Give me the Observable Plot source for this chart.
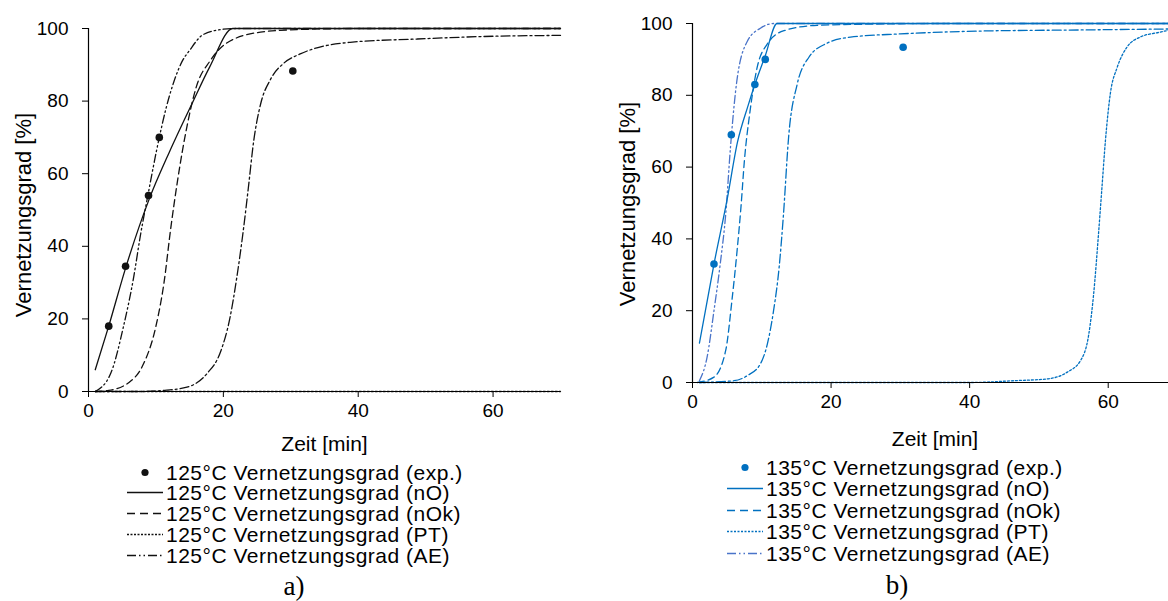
<!DOCTYPE html>
<html><head><meta charset="utf-8">
<script src="https://cdn.jsdelivr.net/npm/d3@7"></script>
<script src="https://cdn.jsdelivr.net/npm/@observablehq/plot@0.6"></script>
<style>
html,body{margin:0;padding:0;background:#fff;overflow:hidden;}
#root{position:relative;width:1168px;height:601px;overflow:hidden;font-family:"Liberation Sans",Arial,sans-serif;background:#fff;}
.panel{position:absolute;top:0;}
.legend{position:absolute;}
.row{position:absolute;left:0;height:21px;line-height:21px;font-size:21px;letter-spacing:0.5px;white-space:nowrap;color:#000;width:420px;}
.row svg{position:absolute;left:0;top:0;}
.row span{position:absolute;top:0;}
.cap{position:absolute;font-family:"Liberation Serif","Times New Roman",serif;font-size:27px;line-height:1;color:#000;transform:translate(-50%,-50%);}
</style>
</head><body><div id="root"></div>
<script>
// ---------- data ----------
const ticksX = [0, 20, 40, 60];
const ticksY = [0, 20, 40, 60, 80, 100];
const xLabel = "Zeit [min]";
const yLabel = "Vernetzungsgrad [%]";

// 125 °C
const exp125 = [[3,18],[5.5,34.5],[8.9,54],[10.5,70],[30.3,88.3]];
const nO125  = [[1,6],[3,18],[5.5,34],[9,53],[12,66],[15.4,79.5],[18,89.5],[21.4,100],[70,100]];
const nOk125 = [[1,0],[3,0.3],[6,2.5],[8,7],[10,18],[11.2,30],[12.2,45],[13.2,58],[14.6,73],[16,84],[18,91],[20.5,96],[25.5,99],[31,99.7],[40,100],[70,100]];
const PT125  = [[1,0],[70,0]];
const AE125  = [[1,0],[3.3,5],[5.2,18],[6.7,31.5],[7.7,43],[8.7,53],[10.5,70],[11.5,78],[12.6,85],[13.9,91],[15,94],[17,98.3],[20,99.8],[22,100],[70,100]];
const DD125  = [[1,0],[8,0],[11,0.3],[14.6,1.2],[17.6,5],[19.6,11],[21,20.5],[22,31.5],[23,45],[23.7,56],[24.5,69],[25.5,79],[27,86],[29,90.5],[31.4,93],[35,95.2],[38.8,96.2],[48.7,97.1],[58.6,97.8],[70,98.1]];
const names125 = ["125°C Vernetzungsgrad (exp.)","125°C Vernetzungsgrad (nO)","125°C Vernetzungsgrad (nOk)","125°C Vernetzungsgrad (PT)","125°C Vernetzungsgrad (AE)"];

// 135 °C
const exp135 = [[3.1,33],[5.6,69],[9,83],[10.5,90],[30.4,93.4]];
const nO135  = [[1,11],[3.1,33],[5,51],[6.5,67],[8,77],[9,83],[10.5,91],[12.2,100],[70,100]];
const nOk135 = [[0.7,0],[3.1,1.5],[4.8,9],[5.7,23],[6.45,37],[7,49],[7.5,62],[8.3,75.5],[9.3,87.5],[10.8,94.3],[13.2,98],[18,99.5],[25,99.8],[35,100],[70,100]];
const PT135  = [[1,0],[40,0],[46.4,0.5],[51.2,1],[54.1,2.9],[56,6.1],[57.2,13.5],[57.9,24.7],[58.6,41.4],[59.1,54.4],[59.6,67.4],[60.3,80.4],[61.3,87.8],[62.7,93.4],[64.6,96.2],[67.5,97.6],[70,98.6]];
const AE135  = [[1,0.5],[2.1,7],[3.1,20],[4,33],[4.8,47],[5.5,66],[6.4,84],[7.9,95],[9.8,98.7],[11.7,100],[70,100]];
const DD135  = [[1,0],[6,0.5],[7.9,1.9],[9.8,5.2],[10.8,10.7],[11.7,20],[12.5,32],[13.1,46],[13.9,69],[15.1,83],[16.8,90.6],[19.4,94.5],[22.8,96.2],[30,97.1],[41.6,97.9],[56,98.2],[70,98.5]];
const names135 = ["135°C Vernetzungsgrad (exp.)","135°C Vernetzungsgrad (nO)","135°C Vernetzungsgrad (nOk)","135°C Vernetzungsgrad (PT)","135°C Vernetzungsgrad (AE)"];

// ---------- styles ----------
const DASH = {nO: null, nOk: "7,4", PT: "2,2", AE: "8,3,1.5,3,1.5,3", DD: "9,3,2,3"};
const black = "#111", blue = "#0070C0", blueAE = "#4A74C9";

function makePanel(c) {
  const lines = [
    {data: c.DD, dash: DASH.DD, color: c.color},
    {data: c.PT, dash: DASH.PT, color: c.color},
    {data: c.nOk, dash: DASH.nOk, color: c.color},
    {data: c.AE, dash: DASH.AE, color: c.aeColor},
    {data: c.nO, dash: DASH.nO, color: c.color}
  ];
  return Plot.plot({
    width: c.width, height: c.height,
    marginLeft: c.mL, marginRight: c.mR, marginTop: c.mT, marginBottom: c.mB,
    x: {domain: [0, 70]}, y: {domain: [0, 100]},
    style: {fontFamily: '"Liberation Sans", Arial, sans-serif', color: "#000", background: "transparent", overflow: "visible"},
    marks: [
      ...lines.map(s => Plot.line(s.data, {x: d => d[0], y: d => d[1], stroke: s.color, strokeWidth: 1.3, strokeDasharray: s.dash, curve: "monotone-x"})),
      Plot.ruleY([0], {stroke: "#000", strokeWidth: 1.2}),
      Plot.ruleX([0], {stroke: "#000", strokeWidth: 1.2}),
      Plot.dot(c.exp, {x: d => d[0], y: d => d[1], r: 3.8, fill: c.color}),
      Plot.axisX({ticks: ticksX, tickSize: 6, tickPadding: 6, fontSize: 19, label: null}),
      Plot.axisY({ticks: ticksY, tickSize: 6, tickPadding: 14, fontSize: 19, label: null}),
      Plot.text([xLabel], {text: d => d, frameAnchor: "bottom", dy: c.xTitleDy, fontSize: 21, lineAnchor: "middle"}),
      Plot.text([yLabel], {text: d => d, frameAnchor: "left", textAnchor: "middle", lineAnchor: "middle", dx: c.yTitleDx, dy: c.yTitleDy, rotate: -90, fontSize: 22})
    ]
  });
}

function makeLegend(c) {
  const div = document.createElement("div");
  div.className = "legend";
  div.style.left = c.left + "px"; div.style.top = c.top + "px";
  const kinds = ["dot", "nO", "nOk", "PT", "AE"];
  kinds.forEach((k, i) => {
    const row = document.createElement("div");
    row.className = "row";
    row.style.top = (i * c.step) + "px";
    const col = k === "AE" ? c.aeColor : c.color;
    let sw;
    if (k === "dot") sw = `<circle cx="${c.swW/2}" cy="10.5" r="3.6" fill="${col}"/>`;
    else {
      const dash = k === "nOk" ? "8,5" : k === "PT" ? "2,1.5" : k === "AE" ? "9,3,1.5,3,1.5,3" : "";
      sw = `<line x1="0" x2="${c.swW}" y1="10.5" y2="10.5" stroke="${col}" stroke-width="1.3" ${dash ? `stroke-dasharray="${dash}"` : ""}/>`;
    }
    row.innerHTML = `<svg width="${c.swW}" height="21">${sw}</svg><span style="left:${c.textX}px">${c.names[i]}</span>`;
    div.appendChild(row);
  });
  return div;
}

const root = document.getElementById("root");

const left = makePanel({width: 580, height: 462, mL: 88, mR: 20, mT: 28, mB: 71,
  exp: exp125, nO: nO125, nOk: nOk125, PT: PT125, AE: AE125, DD: DD125,
  color: black, aeColor: black, xTitleDy: 53, yTitleDx: -65, yTitleDy: 5});
left.classList.add("panel"); left.style.left = "0px";
root.appendChild(left);

const right = makePanel({width: 600, height: 456, mL: 92, mR: 23, mT: 23, mB: 74,
  exp: exp135, nO: nO135, nOk: nOk135, PT: PT135, AE: AE135, DD: DD135,
  color: blue, aeColor: blueAE, xTitleDy: 57, yTitleDx: -65, yTitleDy: 1});
right.classList.add("panel"); right.style.left = "600px";
root.appendChild(right);

root.appendChild(makeLegend({left: 127, top: 461.5, step: 20.75, swW: 36, textX: 39, names: names125, color: black, aeColor: black}));
root.appendChild(makeLegend({left: 727, top: 456.5, step: 21.5, swW: 36, textX: 39, names: names135, color: blue, aeColor: blueAE}));

const capA = document.createElement("div"); capA.className = "cap"; capA.textContent = "a)";
capA.style.left = "294px"; capA.style.top = "586px"; root.appendChild(capA);
const capB = document.createElement("div"); capB.className = "cap"; capB.textContent = "b)";
capB.style.left = "897px"; capB.style.top = "585px"; root.appendChild(capB);
</script>
</body></html>
